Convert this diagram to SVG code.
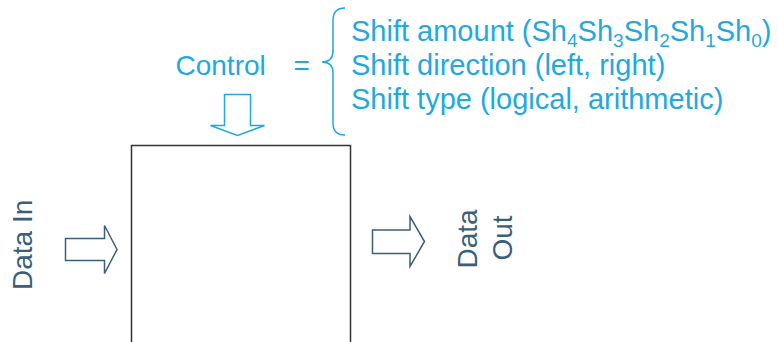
<svg xmlns="http://www.w3.org/2000/svg" width="778" height="342" viewBox="0 0 778 342">
<style>
.blue{fill:#1FA9E1;font-family:"Liberation Sans",Arial,sans-serif;font-size:29px}
.ctl{fill:#1FA9E1;font-family:"Liberation Sans",Arial,sans-serif;font-size:28px}
.dark{fill:#3A5F7B;font-family:"Liberation Sans",Arial,sans-serif;font-size:28px}
.sub{font-size:19px}
.barr{fill:#fff;stroke:#1FA9E1;stroke-width:1.5;stroke-linejoin:miter}
.darr{fill:#fff;stroke:#3A5F7B;stroke-width:1.5;stroke-linejoin:miter}
</style>
<rect width="778" height="342" fill="#fff"/>
<g id="shifter">
<rect x="131.5" y="145.5" width="219" height="220" fill="#fff" stroke="#333" stroke-width="1.5"/>
</g>
<g id="control">
<text class="ctl" x="175.5" y="75">Control</text>
<text class="ctl" x="293.5" y="75">=</text>
<path d="M345,8 Q333,8 333,20 L333,51 Q333,62 322,62 Q333,62 333,73 L333,123 Q333,135 345,135" fill="none" stroke="#1FA9E1" stroke-width="1.5"/>
<text class="blue" x="351" y="41">Shift amount (Sh<tspan class="sub" baseline-shift="-6">4</tspan>Sh<tspan class="sub" baseline-shift="-6">3</tspan>Sh<tspan class="sub" baseline-shift="-6">2</tspan>Sh<tspan class="sub" baseline-shift="-6">1</tspan>Sh<tspan class="sub" baseline-shift="-6">0</tspan>)</text>
<text class="blue" x="351" y="75">Shift direction (left, right)</text>
<text class="blue" x="351" y="109">Shift type (logical, arithmetic)</text>
</g>
<g id="data-in">
<text class="dark" transform="translate(32,290) rotate(-90)">Data In</text>
</g>
<g id="data-out">
<text class="dark" text-anchor="middle" transform="translate(477,239) rotate(-90)">Data</text>
<text class="dark" text-anchor="middle" transform="translate(512,238) rotate(-90)">Out</text>
</g>
<g id="connectors">
<polygon class="barr" points="224.5,94.5 250.5,94.5 250.5,125.5 264.5,125.5 237.5,135.5 210.5,125.5 224.5,125.5"/>
<polygon class="darr" points="65.5,238.5 104.5,238.5 104.5,225.5 117,249.5 104.5,273.5 104.5,260.5 65.5,260.5"/>
<polygon class="darr" points="372.5,230 410,230 410,216.5 424.5,241.5 410,266.5 410,253.5 372.5,253.5"/>
</g>
</svg>
